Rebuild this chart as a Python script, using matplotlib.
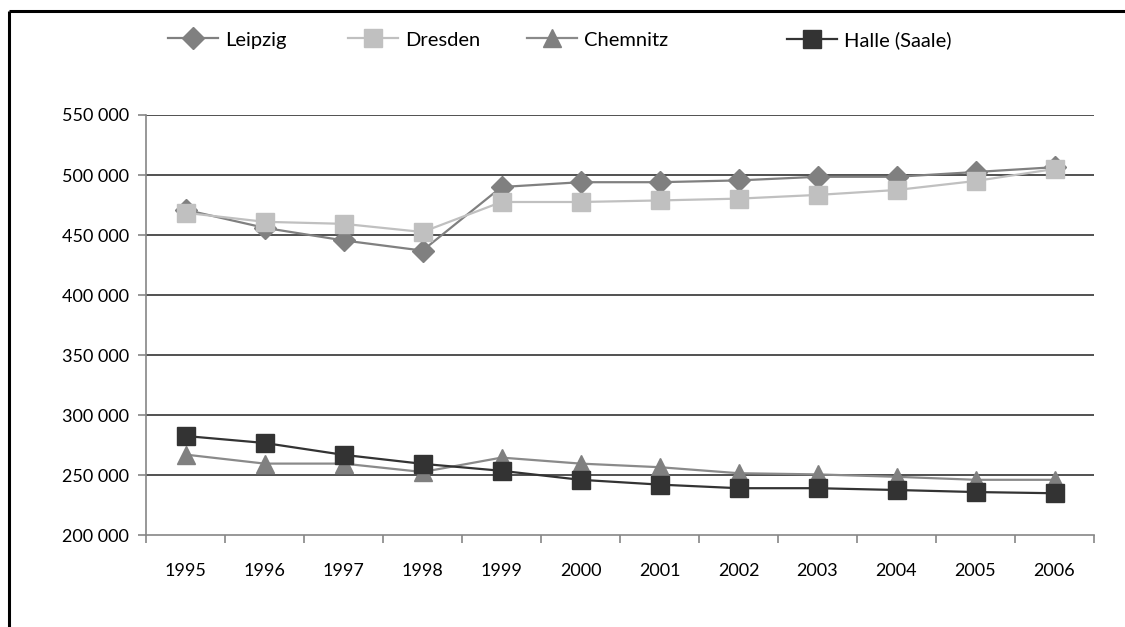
import matplotlib
matplotlib.use("Agg")
import matplotlib.pyplot as plt
from matplotlib.lines import Line2D

plt.rcParams['font.family'] = ['Lato', 'DejaVu Sans']

# data
years = ['1995', '1996', '1997', '1998', '1999', '2000',
         '2001', '2002', '2003', '2004', '2005', '2006']
leipzig = [471000, 456000, 445500, 437000, 490000, 494000,
           494000, 495500, 498500, 498500, 502500, 506500]
dresden = [468500, 461000, 459300, 452500, 477500, 477500,
           478800, 480300, 483400, 487500, 495000, 505000]
chemnitz = [267000, 259500, 259500, 252500, 264500, 259500,
            256500, 251500, 250500, 248500, 246000, 246000]
halle = [282500, 276700, 266800, 259300, 253500, 246000,
         242000, 239000, 239000, 237500, 235800, 234800]
series_names = ['Leipzig', 'Dresden', 'Chemnitz', 'Halle (Saale)']
yticks = [200000, 250000, 300000, 350000, 400000, 450000, 500000, 550000]

fig = plt.figure(figsize=(11.25, 6.27), dpi=100)
ax = fig.add_axes([146/1125, 1 - 535/627, (1094 - 146)/1125, (535 - 115)/627])

# outer frame: only top and left edges are inside the picture
top_y = 1 - 11/627
left_x = 8.5/1125
fig.lines.append(Line2D([left_x, 1.0], [top_y, top_y], transform=fig.transFigure,
                        color='black', lw=2.2, solid_capstyle='butt'))
fig.lines.append(Line2D([left_x, left_x], [0.0, top_y], transform=fig.transFigure,
                        color='black', lw=2.2, solid_capstyle='butt'))

x = list(range(len(years)))
styles = [
    (leipzig, '#808080', '#808080', 'D', 11),
    (dresden, '#c0c0c0', '#c0c0c0', 's', 12.5),
    (chemnitz, '#8a8a8a', '#808080', '^', 13),
    (halle, '#333333', '#333333', 's', 12.5),
]
handles = []
for (vals, lc, mc, m, ms), name in zip(styles, series_names):
    h, = ax.plot(x, vals, color=lc, lw=1.6, marker=m, markersize=ms,
                 markerfacecolor=mc, markeredgecolor=mc, label=name)
    handles.append(h)

ax.set_xlim(-0.5, len(years) - 0.5)
ax.set_ylim(200000, 550000)
ax.set_yticks(yticks)
ax.set_yticklabels(['{:,}'.format(v).replace(',', ' ') for v in yticks])
for v in yticks[1:]:
    ax.axhline(v, color='#222222', lw=1.1, zorder=0)

ax.set_xticks([i - 0.5 for i in range(len(years) + 1)])
ax.set_xticklabels([])
ax.set_xticks(x, minor=True)
ax.set_xticklabels(years, minor=True)
ax.tick_params(axis='x', which='minor', length=0, pad=20, labelsize=13)
ax.tick_params(axis='x', which='major', length=6, color='#868686', width=1.2)
ax.tick_params(axis='y', length=6, color='#868686', width=1.2, pad=6, labelsize=13)

for s in ['top', 'right']:
    ax.spines[s].set_visible(False)
for s in ['left', 'bottom']:
    ax.spines[s].set_color('#868686')
    ax.spines[s].set_linewidth(1.2)

# legend entries placed one by one along the top
leg_x = [168, 348, 527, 787]
for h, lx in zip(handles, leg_x):
    lg = fig.legend(handles=[h], loc='center left',
                    bbox_to_anchor=(lx/1125, 1 - 40/627), frameon=False,
                    handlelength=2.5, handletextpad=0.35, borderpad=0,
                    borderaxespad=0, fontsize=14.5)

plt.savefig('out.png', dpi=100)
